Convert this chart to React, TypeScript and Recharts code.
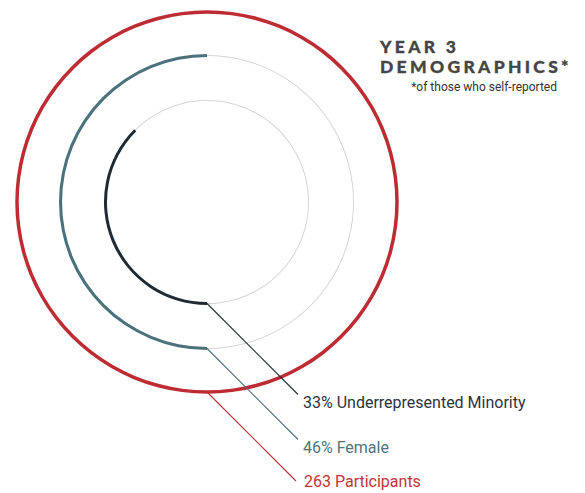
import React from "react";
import { PieChart, Pie, Cell } from "recharts";

// rings from outside to inside
const ringNames = ["Participants", "Female", "Underrepresented Minority"];
const ringLabels = ["263 Participants", "46% Female", "33% Underrepresented Minority"];
// share of a full turn covered by each arc, as drawn
const arcShares = [100, 50, 37.5];

const RED = "#bd2c32";
const TEAL = "#4b717c";
const DARK = "#1f2a33";
const GRAY = "#d6d6d6";

const CX = 207;
const CY = 202;
const RAD = Math.PI / 180;

const rings = [
  { radius: 190, width: 3.5, color: RED, text: "#c0353b", lead: 89, textDx: 8, textDy: 6 },
  { radius: 146.5, width: 3, color: TEAL, text: "#4f7480", lead: 91, textDx: 5, textDy: 13 },
  { radius: 101.5, width: 3, color: DARK, text: "#2b3440", lead: 91, textDx: 5, textDy: 13 },
];

function makeLabel(ringIdx: number) {
  const ring = rings[ringIdx];
  return (props: any) => {
    if (props.index !== 0) return null;
    const r = (props.innerRadius + props.outerRadius) / 2;
    const x0 = props.cx + r * Math.cos(-props.startAngle * RAD);
    const y0 = props.cy + r * Math.sin(-props.startAngle * RAD);
    const x1 = x0 + ring.lead;
    const y1 = y0 + ring.lead;
    return (
      <g key={`lbl-${ringIdx}`}>
        <line x1={x0} y1={y0} x2={x1} y2={y1} stroke={ring.color} strokeWidth={1.1} />
        <text
          x={x1 + ring.textDx}
          y={y1 + ring.textDy}
          fill={ring.text}
          fontSize={16}
          fontFamily="Roboto, sans-serif"
        >
          {ringLabels[ringIdx]}
        </text>
      </g>
    );
  };
}

export default function App() {
  return (
    <div style={{ position: "absolute", left: 0, top: 0, width: 585, height: 493, background: "#fff" }}>
      <PieChart width={585} height={493} margin={{ top: 0, right: 0, bottom: 0, left: 0 }}>
        {/* thin gray tracks */}
        {rings.slice(1).map((ring, i) => (
          <Pie
            key={`track-${i}`}
            data={[{ name: "track", value: 1 }]}
            dataKey="value"
            cx={CX}
            cy={CY}
            innerRadius={ring.radius - 0.5}
            outerRadius={ring.radius + 0.5}
            startAngle={270}
            endAngle={-90}
            stroke="none"
            fill={GRAY}
            isAnimationActive={false}
          />
        ))}
        {rings.map((ring, i) => {
          const data = [
            { name: ringNames[i], value: arcShares[i] },
            { name: "rest", value: 100 - arcShares[i] },
          ].filter((d) => d.value > 0);
          return (
            <Pie
              key={`ring-${i}`}
              data={data}
              dataKey="value"
              cx={CX}
              cy={CY}
              innerRadius={ring.radius - ring.width / 2}
              outerRadius={ring.radius + ring.width / 2}
              startAngle={270}
              endAngle={-90}
              paddingAngle={0}
              stroke="none"
              label={makeLabel(i)}
              labelLine={false}
              isAnimationActive={false}
            >
              {data.map((d, j) => (
                <Cell key={j} fill={j === 0 ? ring.color : "transparent"} />
              ))}
            </Pie>
          );
        })}
      </PieChart>
      <div
        style={{
          position: "absolute",
          left: 380,
          top: 37,
          fontFamily: "Lato, sans-serif",
          fontWeight: 900,
          fontSize: 17.5,
          letterSpacing: 3.3,
          lineHeight: "20px",
          color: "#454545",
          WebkitTextStroke: "0.3px #454545",
        }}
      >
        <div>YEAR 3</div>
        <div>DEMOGRAPHICS*</div>
      </div>
      <div
        style={{
          position: "absolute",
          right: 28,
          top: 80,
          fontFamily: "Roboto, sans-serif",
          fontSize: 12,
          color: "#333",
        }}
      >
        *of those who self-reported
      </div>
    </div>
  );
}
